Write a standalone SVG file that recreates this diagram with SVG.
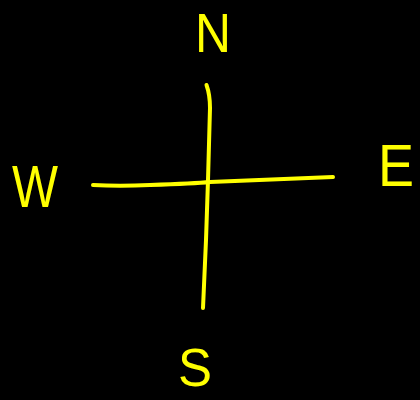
<svg xmlns="http://www.w3.org/2000/svg" width="420" height="400" viewBox="0 0 420 400">
<style>
.lbl{font-family:"Liberation Sans","DejaVu Sans",sans-serif;fill:#ffff00;text-anchor:middle}
.ln{fill:none;stroke:#ffff00;stroke-width:4;stroke-linecap:round;stroke-linejoin:round}
</style>
<rect width="420" height="400" fill="#000"/>
<g id="connectors">
<path class="ln" d="M206.5,85 C209,92 210,98 210,108 L208,180 L206,240 L203,308"/>
<path class="ln" d="M93,185 C110,186 130,186 150,185 C180,184 200,183 210,182 C260,180 300,178 333,177"/>
</g>
<g id="north"><text class="lbl" x="213" y="52" font-size="56" textLength="36" lengthAdjust="spacingAndGlyphs">N</text></g>
<g id="east"><text class="lbl" x="396" y="186" font-size="60" textLength="36" lengthAdjust="spacingAndGlyphs">E</text></g>
<g id="west"><text class="lbl" x="35" y="207" font-size="60" textLength="46" lengthAdjust="spacingAndGlyphs">W</text></g>
<g id="south"><text class="lbl" x="195" y="386" font-size="54" textLength="34" lengthAdjust="spacingAndGlyphs">S</text></g>
</svg>
